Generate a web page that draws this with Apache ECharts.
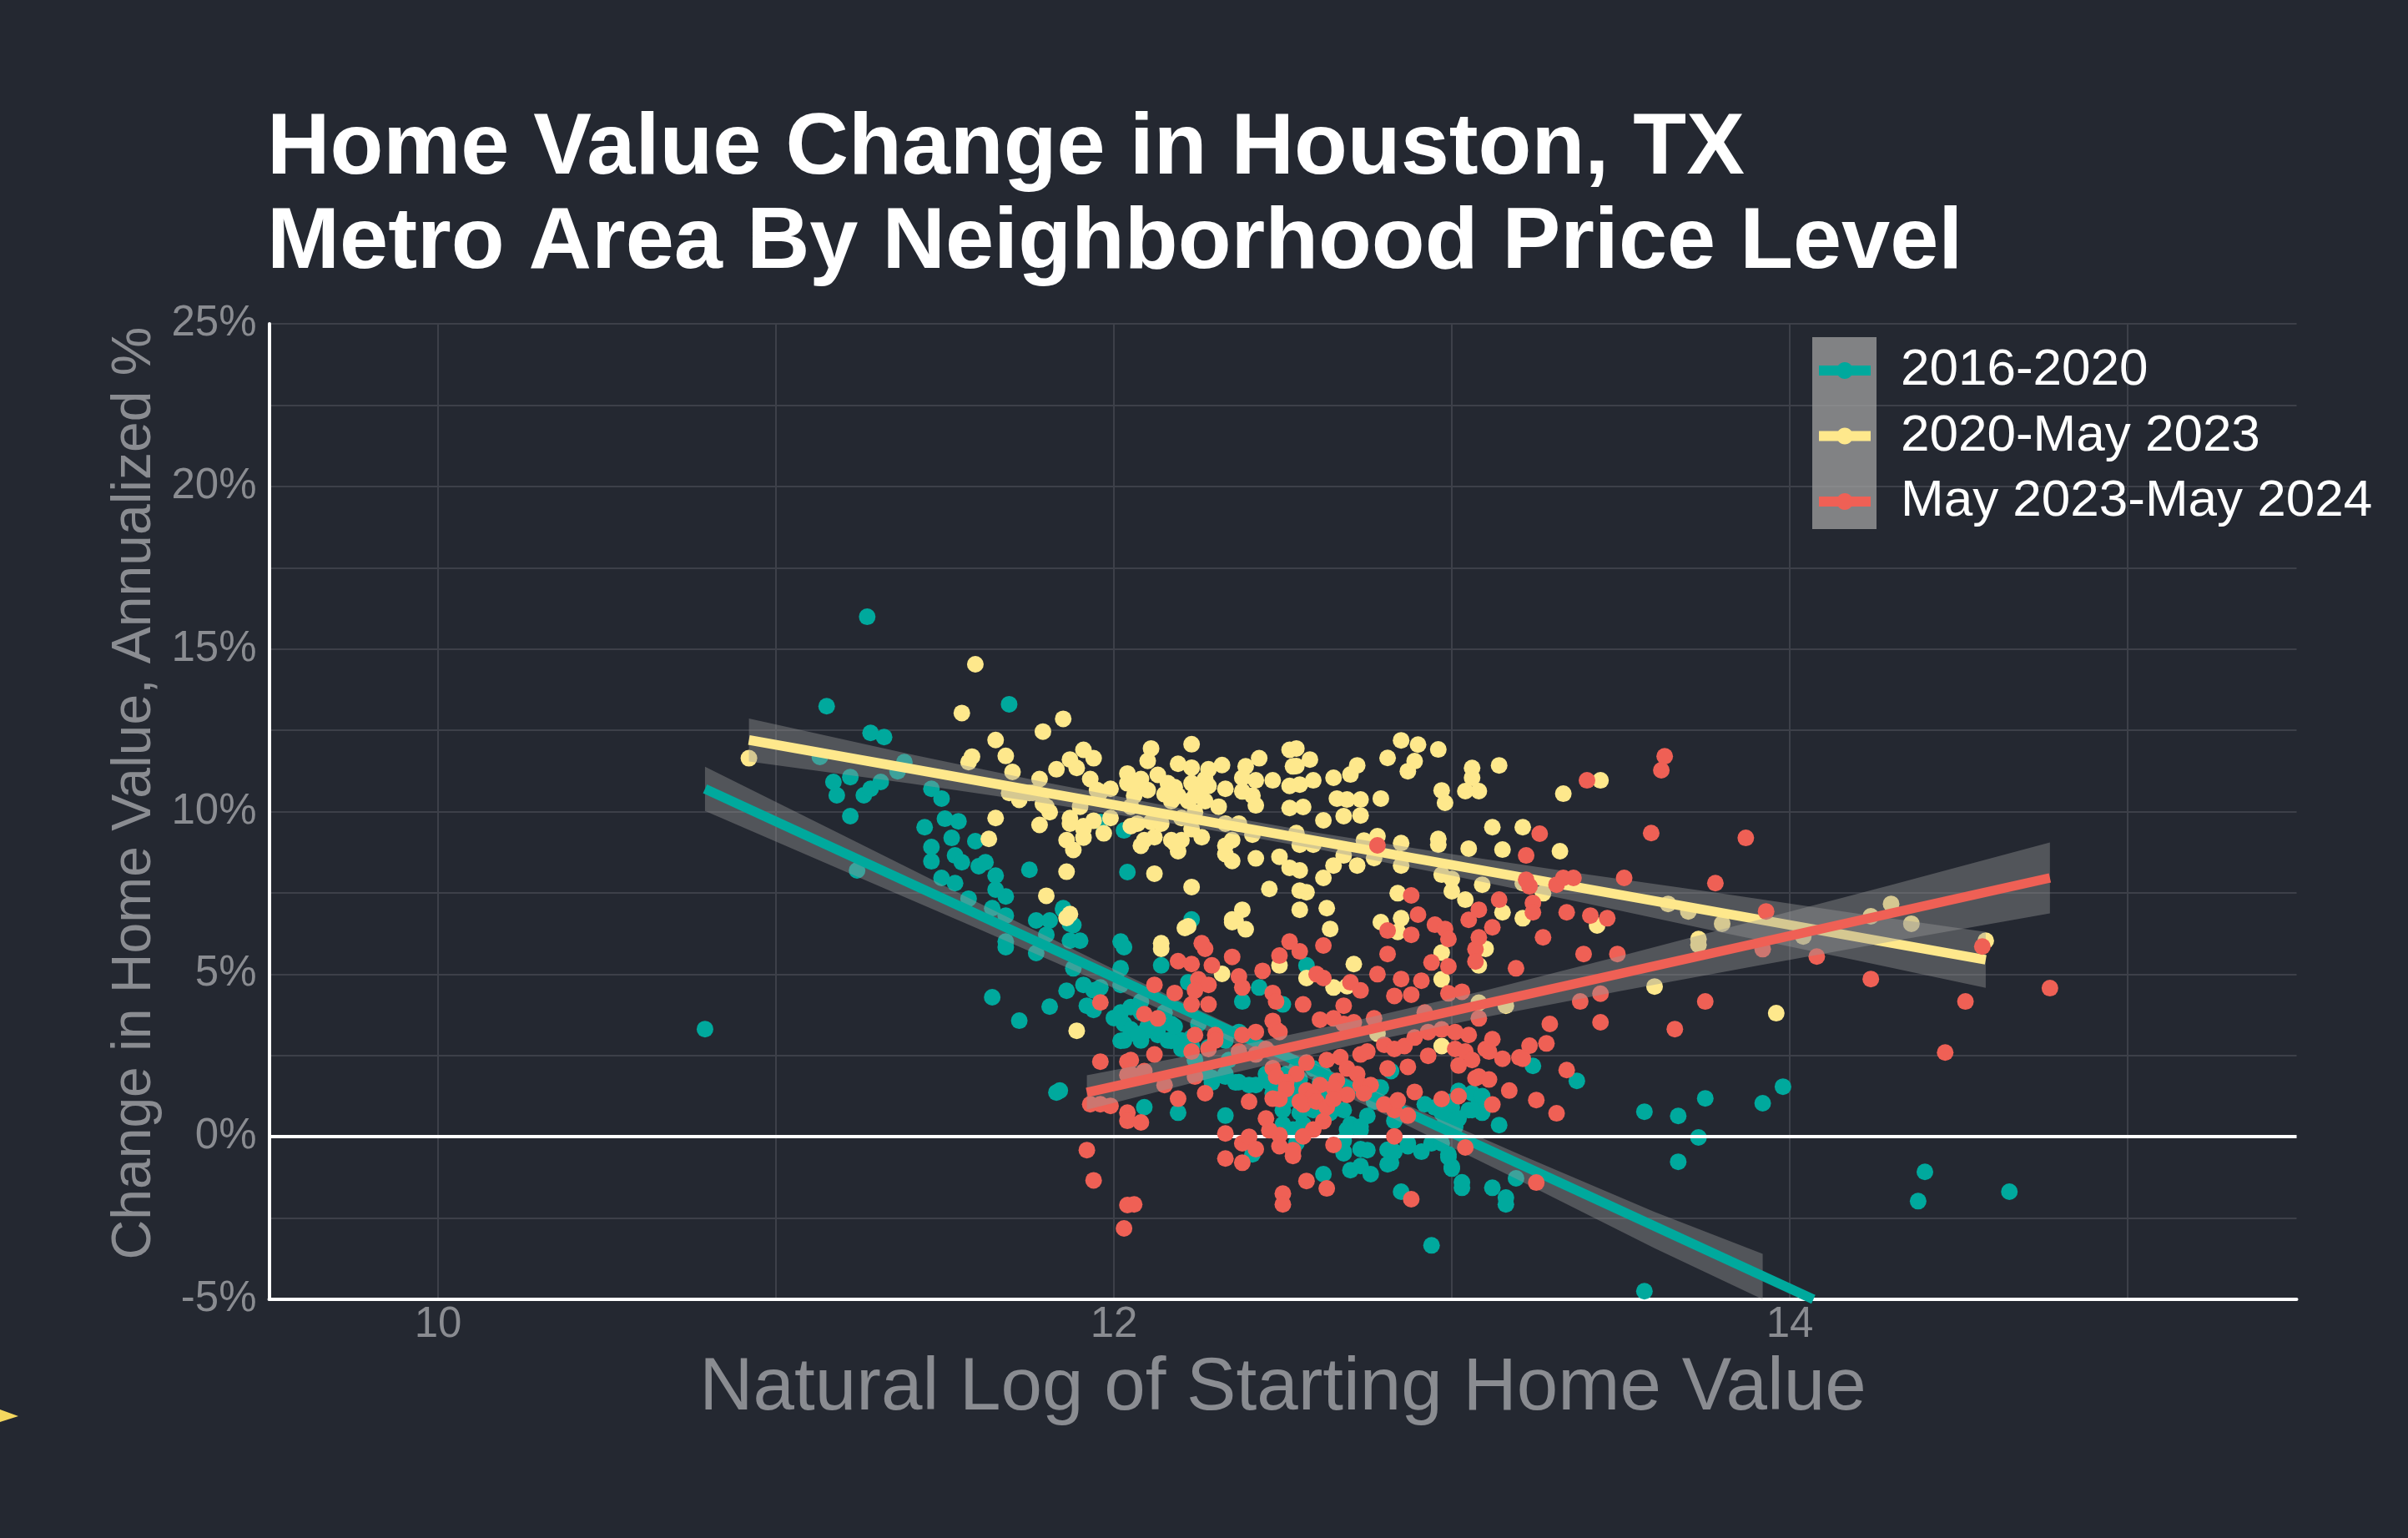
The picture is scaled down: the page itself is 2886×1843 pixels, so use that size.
<!DOCTYPE html>
<html>
<head>
<meta charset="utf-8">
<script src="https://cdn.jsdelivr.net/npm/echarts@6/dist/echarts.min.js"></script>
<style>
html,body{margin:0;padding:0;background:#242831;}
#chart{width:2886px;height:1843px;}
</style>
</head>
<body>
<div id="chart"></div>
<script>
const seriesNames = ['2016-2020', '2020-May 2023', 'May 2023-May 2024'];
const xTickLabels = [10, 12, 14];
const yTickLabels = [-5, 0, 5, 10, 15, 20, 25];

const tealPoints = [
[10.79,3.31],[11.27,15.99],[11.15,13.24],[11.69,13.30],[11.28,12.42],[11.32,12.29],[11.13,11.68],[11.38,11.52],[11.36,11.24],[11.17,10.91],
[11.22,11.06],[11.18,10.50],[11.26,10.50],[11.28,10.70],[11.31,10.91],[11.22,9.86],[11.46,10.70],[11.49,10.40],[11.44,9.52],[11.50,9.78],
[11.54,9.70],[11.52,9.19],[11.46,8.91],[11.46,8.47],[11.53,8.65],[11.55,8.44],[11.59,9.09],[11.60,8.32],[11.62,8.44],[11.49,7.96],
[11.53,7.80],[11.65,8.03],[11.65,7.60],[11.68,7.39],[11.24,8.19],[11.57,7.32],[11.64,7.03],[11.68,6.80],[11.75,8.21],[11.77,6.65],
[11.81,6.65],[11.85,7.03],[11.87,6.55],[12.03,9.42],[12.04,8.14],[11.80,6.21],[11.87,6.03],[11.90,6.03],[11.68,6.00],[12.02,6.00],
[11.64,4.29],[11.72,3.57],[11.81,4.00],[11.83,1.36],[11.68,5.83],[11.77,5.65],[11.88,5.18],[11.86,4.49],[11.91,4.67],[11.94,3.90],
[11.92,4.03],[12.02,4.67],[12.02,3.82],[12.03,3.47],[12.02,2.95],[12.03,5.83],[12.02,5.18],
[11.96,9.68],[11.85,6.98],[12.23,6.68],[11.88,6.51],[12.14,5.27],[11.94,4.50],[11.96,4.59],[12.00,3.65],[12.05,3.99],[12.08,4.16],
[12.05,3.30],[12.09,3.22],[12.13,3.13],[12.16,2.96],[12.03,2.96],[12.08,2.96],[12.20,2.96],[12.23,2.79],[12.17,3.47],[12.25,3.47],
[12.33,2.96],[12.37,3.22],[12.38,4.16],[12.43,4.59],[12.50,4.07],[12.57,5.27],[12.29,1.81],[12.33,1.93],[12.37,1.68],[12.42,1.59],
[12.46,1.68],[12.47,1.34],[12.51,1.25],[12.54,1.59],[12.56,1.17],[12.09,0.91],[12.19,0.74],[12.33,0.65],[12.50,0.82],[12.55,0.74],
[11.84,1.42],[12.22,4.75],
[12.62,-1.15],[12.68,-0.51],[12.70,-1.03],[12.73,-0.90],[12.76,-1.15],[12.75,-0.41],[12.81,-0.85],[12.81,-0.40],[12.85,-1.69],[12.91,-0.46],
[12.87,-0.20],[12.99,-0.54],[13.00,-0.92],[13.03,-1.57],[13.12,-1.57],[13.16,-1.87],[13.16,-2.08],[13.19,-1.28],[12.94,-3.34],[13.24,2.18],
[13.37,1.72],[13.14,0.36],[13.09,0.74],[13.05,0.82],[13.02,1.41],[13.00,0.90],[12.95,0.90],[12.92,1.00],[12.98,0.56],[13.08,1.16],
[12.83,0.49],[12.73,-0.38],[12.70,0.38],[12.73,0.20],[12.68,0.82],[12.63,1.26],[12.59,0.82],[12.52,1.16],[12.48,1.67],[12.50,0.38],
[12.54,-0.20],[12.41,-0.54],[12.40,1.59],[12.36,1.67],[12.33,1.85],[12.29,1.67],[12.27,1.98],[12.24,2.36],[12.20,2.70],[12.17,2.95],
[12.13,3.31],[12.10,3.39],[12.07,3.13],[12.08,3.82],[12.15,3.82],[12.18,3.39],[12.23,3.05],[12.28,2.75],[12.34,2.36],[12.45,1.93],
[12.55,1.77],[12.61,1.67],[12.78,1.51],[12.75,0.64],[12.62,1.93],[12.59,2.10],[13.01,0.31],[12.94,-0.20],
[12.82,2.02],[12.51,1.93],[12.54,2.10],[12.53,1.34],[12.50,1.08],[12.56,0.39],[12.53,0.22],[12.64,0.74],[12.73,0.31],[12.69,0.22],
[12.68,-0.12],[12.79,1.51],[12.77,1.08],[12.97,0.74],[13.00,1.08],[13.06,1.34],[13.09,1.25],[13.06,0.82],[13.02,0.56],[12.97,-0.20],
[12.99,-0.63],[13.00,-0.98],[12.83,-0.46],[12.87,-0.29],[12.68,-0.46],[12.82,-0.80],[13.03,-1.40],
[13.57,0.77],[13.67,0.64],[13.75,1.18],[13.92,1.03],[13.98,1.54],[13.73,-0.02],[13.67,-0.77],[14.40,-1.08],[14.38,-1.98],[14.65,-1.69],
[13.57,-4.75]
];

const yellowPoints = [
[10.92,11.64],[11.59,14.53],[11.55,13.03],[11.85,12.85],[11.79,12.46],[11.65,12.20],[11.58,11.69],[11.57,11.52],[11.68,11.71],[11.70,11.22],
[11.78,11.00],[11.83,11.30],[11.87,11.60],[11.91,11.90],[11.94,11.64],[11.89,11.34],[11.93,11.00],[11.99,10.70],[12.04,11.17],[12.04,10.87],
[11.72,10.36],[11.69,10.57],[11.75,10.57],[11.79,10.23],[11.81,9.98],[11.78,9.59],[11.87,9.80],[11.87,9.63],[11.91,9.55],[11.94,9.72],
[11.90,10.15],[11.97,9.33],[11.99,9.80],[11.91,9.20],[11.86,9.12],[11.88,8.82],[11.65,9.80],[11.63,9.16],[11.86,8.15],[11.80,7.41],
[11.87,6.85],[11.96,10.60],[12.05,10.15],[12.05,9.55],[11.95,10.66],[11.76,10.58],[11.80,10.15],[11.91,9.46],
[12.11,11.94],[12.10,11.56],[12.13,11.13],[12.08,11.00],[12.16,10.87],[12.07,10.75],[12.10,10.66],[12.15,10.53],[12.23,12.07],[12.19,11.47],
[12.23,11.35],[12.28,11.30],[12.32,11.43],[12.23,10.87],[12.28,10.79],[12.22,10.32],[12.27,10.32],[12.31,10.15],[12.39,11.39],[12.43,11.64],
[12.38,11.04],[12.42,10.96],[12.47,10.96],[12.52,11.90],[12.53,11.39],[12.52,10.79],[12.52,10.11],[12.33,10.70],[12.38,10.62],[12.42,10.19],
[12.07,9.63],[12.11,9.68],[12.14,9.63],[12.09,9.12],[12.12,9.21],[12.17,9.12],[12.20,9.12],[12.19,8.78],[12.23,9.46],[12.26,9.21],
[12.35,9.12],[12.33,8.69],[12.35,8.48],[12.41,9.29],[12.42,8.56],[12.49,8.61],[12.52,8.27],[12.12,8.09],[12.23,7.68],[12.46,7.62],
[12.38,6.98],[12.35,6.68],
[12.18,9.03],[12.08,8.95],[12.24,9.98],[12.20,9.80],[12.37,9.63],[12.33,9.63],[12.33,8.95],[12.41,10.49],[12.24,10.49],[12.19,10.49],
[12.17,10.32],[12.06,10.49],[12.18,10.75],[12.27,11.00],[12.26,10.75],
[12.54,11.94],[12.58,11.60],[12.54,11.40],[12.59,10.96],[12.55,10.83],[12.65,11.04],[12.70,11.14],[12.72,11.42],[12.85,12.19],[12.90,12.06],
[12.96,11.91],[12.81,11.65],[12.89,11.55],[12.87,11.24],[13.06,11.34],[13.06,11.04],[13.08,10.63],[13.04,10.63],[13.14,11.42],[12.97,10.65],
[12.98,10.27],[13.33,10.55],[13.12,9.52],[13.21,9.52],[13.05,8.86],[13.15,8.83],[13.32,8.78],[12.96,9.16],[12.96,8.98],[12.85,9.03],
[12.85,8.34],[12.78,9.24],[12.74,9.11],[12.77,8.57],[12.72,8.34],[12.68,8.65],[12.65,8.34],[12.62,7.96],[12.97,8.06],[13.00,7.93],
[13.00,7.55],[13.04,7.29],[13.09,7.75],[13.15,6.90],[13.21,6.72],[13.21,7.80],[13.27,7.49],[12.84,7.49],[12.85,6.72],[12.79,6.60],
[12.84,6.30],[13.43,6.50],[12.62,9.73],[12.68,9.86],[12.73,9.88],[12.69,10.37],[12.73,10.37],[12.79,10.40],[12.66,10.40],[12.56,10.14],
[12.54,9.34],[12.55,8.98],[12.59,8.98],[12.55,8.19],[12.55,7.57],[12.57,7.52],[12.55,6.98],[12.63,7.03],[12.64,6.39],[12.36,6.65],
[12.21,6.42],[12.14,5.95],
[12.14,5.78],[12.32,5.01],[12.49,5.27],[12.57,4.88],[12.65,4.59],[12.69,4.63],[12.71,5.31],[12.97,5.66],[12.97,4.84],[13.10,5.78],
[13.08,5.27],[12.78,3.17],[12.97,2.79],[13.16,4.03],[13.08,4.12],[12.22,6.47],[12.35,6.60],[12.39,6.38],[11.89,3.26],[11.86,6.73],
[13.44,10.96],[13.64,7.16],[13.70,6.93],[13.80,6.55],[13.73,6.08],[14.24,6.78],[14.30,7.16],[14.36,6.55],[14.58,6.03],[14.04,6.16],
[13.60,4.62],[13.96,3.80],[13.73,5.90]
];

const redPoints = [
[11.96,4.13],[11.96,2.31],[11.93,1.00],[11.96,1.00],[11.99,0.95],[12.04,0.74],[12.04,0.49],[12.04,2.31],[12.04,1.90],[11.92,-0.41],
[11.94,-1.34],[12.04,-2.10],[12.03,-2.82],
[12.27,5.78],[12.35,5.53],[12.52,6.00],[12.55,5.70],[12.49,5.57],[12.19,5.40],[12.23,5.31],[12.29,5.27],[12.44,5.10],[12.37,4.93],
[12.25,4.84],[12.28,4.67],[12.24,4.50],[12.12,4.67],[12.18,4.42],[12.23,4.07],[12.28,4.07],[12.38,4.59],[12.47,4.42],[12.48,4.16],
[12.56,4.07],[12.09,3.77],[12.13,3.64],[12.47,3.56],[12.48,3.30],[12.24,3.13],[12.30,3.13],[12.38,3.13],[12.42,3.22],[12.05,2.36],
[12.12,2.53],[12.23,2.62],[12.28,2.70],[12.30,2.96],[12.37,2.62],[12.42,2.53],[12.45,2.70],[12.47,2.11],[12.48,1.85],[12.05,1.93],
[12.09,2.02],[12.15,1.59],[12.19,1.17],[12.27,1.34],[12.40,1.08],[12.47,1.17],[12.51,1.51],[12.54,1.93],[12.56,0.99],[12.57,1.42],
[12.62,5.88],[12.60,5.00],[12.62,4.88],[12.70,4.75],[12.78,5.00],[12.81,5.62],[12.85,4.85],[12.91,4.80],[12.94,5.36],[12.99,5.24],
[13.07,5.77],[13.07,5.39],[13.19,5.18],[13.39,5.62],[13.29,3.47],[13.38,4.16],[13.28,2.87],[13.23,2.80],[13.20,2.44],[13.10,2.70],
[13.08,1.85],[13.25,1.13],[13.31,0.72],[13.34,2.05],[13.25,-1.41],[12.83,0.82],[12.63,-1.59],[12.50,-1.75],[12.50,-2.08],[12.06,-2.08],
[12.38,-0.80],[12.33,-0.67],[12.33,0.10],[12.38,-0.20],[12.40,0.00],[12.42,-0.38],[12.53,-0.41],[12.49,0.05],[12.45,0.56],[12.46,0.20],
[12.08,0.44],[12.24,1.85],[12.88,-1.92],
[12.68,4.03],[12.61,3.60],[12.65,3.64],[12.68,3.47],[12.71,3.52],[12.77,3.64],[12.49,3.22],[12.83,4.33],[12.88,4.37],[12.73,4.50],
[12.99,4.41],[13.03,4.46],[12.92,3.82],[13.08,3.64],[12.63,2.36],[12.67,2.45],[12.57,2.28],[12.51,1.68],[12.73,2.53],[12.75,2.62],
[12.80,2.83],[12.83,2.70],[12.86,2.79],[12.89,3.05],[12.93,3.22],[12.97,3.30],[13.01,3.22],[13.05,3.13],[12.93,2.49],[13.01,2.70],
[13.04,2.62],[13.06,2.36],[13.02,2.19],[13.12,3.00],[13.11,2.62],[13.15,2.40],[13.21,2.40],[12.87,2.15],[12.81,2.10],[12.69,2.10],
[12.72,1.93],[12.73,1.59],[12.66,1.72],[12.65,1.51],[12.61,1.59],[12.59,1.25],[12.76,1.59],[12.74,1.34],[12.69,1.29],[13.07,1.80],
[13.11,1.76],[13.17,1.42],[12.89,1.38],[12.80,0.99],[12.84,1.12],[12.87,0.65],[12.55,1.08],[12.60,1.08],[12.63,0.91],[12.62,0.48],
[12.59,0.22],[12.56,0.01],[12.51,1.46],[12.49,1.16],[12.97,1.16],[13.02,1.25],[13.12,0.99],[12.83,0.01],[12.65,-0.25],[12.53,-0.59],
[12.49,-0.29],[13.04,-0.33],[12.57,-1.36],[12.65,1.16],
[12.78,8.96],[13.26,9.32],[13.22,8.65],[13.40,10.96],[12.88,7.42],[12.90,6.83],[12.81,6.34],[12.88,6.21],[12.95,6.52],[12.98,6.39],
[12.99,6.08],[13.05,6.67],[13.08,6.98],[13.08,6.13],[13.12,6.44],[13.14,7.29],[13.23,7.70],[13.24,7.19],[13.24,6.90],[13.31,7.75],
[13.33,7.96],[13.36,7.96],[13.34,6.90],[13.41,6.80],[13.27,6.13],[13.22,7.90],[12.26,5.95],
[13.49,5.62],[14.24,4.85],[14.52,4.16],[14.77,4.57],[14.46,2.59],[13.75,4.16],[13.66,3.31],[13.44,3.52],[14.08,5.54],[13.92,5.77],
[14.57,5.85],[13.44,4.40],
[13.63,11.70],[13.62,11.27],[13.59,9.34],[13.87,9.19],[13.51,7.96],[13.78,7.80],[13.93,6.93],[13.46,6.72]
];

// fitted lines (read endpoints)
const tealFit = [[10.79, 10.70], [14.07, -5.00]];
const yellowFit = [[10.92, 12.20], [14.58, 5.44]];
const redFit = [[11.92, 1.36], [14.77, 7.96]];

// confidence bands: [x, lower, upper]
const tealBand = [
[10.79,10.02,11.38],[11.20,8.18,9.26],[11.60,6.39,7.19],[12.00,4.57,5.15],[12.40,2.67,3.17],
[12.80,0.70,1.28],[13.20,-1.34,-0.54],[13.60,-3.43,-2.31],[13.92,-5.00,-3.60]
];
const yellowBand = [
[10.92,11.54,12.86],[11.40,10.86,11.76],[11.80,10.25,10.89],[12.20,9.59,10.09],[12.60,8.85,9.35],
[13.00,8.03,8.69],[13.40,7.17,8.07],[13.80,6.28,7.48],[14.20,5.42,6.86],[14.58,4.58,6.30]
];
const redBand = [
[11.92,0.83,1.89],[12.30,1.83,2.65],[12.70,2.81,3.53],[13.10,3.68,4.50],[13.50,4.48,5.56],
[13.90,5.25,6.65],[14.30,6.00,7.74],[14.77,6.87,9.05]
];

const colors = ['#00a99d', '#fee88c', '#ef6055'];
const FONT = "'Liberation Sans', Arial, Helvetica, sans-serif";
const GRID = '#3d4049';
const GRAY_TXT = '#8a8c91';

function scatterSeries(idx, pts, z) {
  return {
    name: seriesNames[idx], type: 'scatter', data: pts, z: z,
    symbol: 'circle', symbolSize: 20, silent: true,
    itemStyle: { color: colors[idx], opacity: 1 }
  };
}
function bandSeries(idx, band, z) {
  return {
    name: seriesNames[idx], type: 'custom', data: band, z: z, silent: true,
    encode: { x: 0, y: [1, 2] },
    renderItem: function (params, api) {
      if (params.dataIndex !== 0) return null;
      const upper = band.map(d => api.coord([d[0], d[2]]));
      const lower = band.slice().reverse().map(d => api.coord([d[0], d[1]]));
      return { type: 'polygon', shape: { points: upper.concat(lower) },
               style: { fill: 'rgba(153,153,153,0.4)' } };
    }
  };
}
function fitSeries(idx, fit, z) {
  return {
    name: seriesNames[idx], type: 'line', data: fit, z: z, silent: true,
    symbol: 'none', lineStyle: { color: colors[idx], width: 11.5, cap: 'butt' },
    itemStyle: { color: colors[idx] }
  };
}

const legendIcon = 'path://M0,4L62,4L62,16L0,16Z M41,10C41,15.52 36.52,20 31,20C25.48,20 21,15.52 21,10C21,4.48 25.48,0 31,0C36.52,0 41,4.48 41,10Z';

const chart = echarts.init(document.getElementById('chart'), null, { renderer: 'canvas', width: 2886, height: 1843 });

const option = {
  backgroundColor: '#242831',
  animation: false,
  textStyle: { fontFamily: FONT },
  title: {
    text: 'Home Value Change in Houston, TX\nMetro Area By Neighborhood Price Level',
    left: 320, top: 123, padding: 0,
    textStyle: { color: '#ffffff', fontSize: 104.5, fontWeight: 'bold', fontFamily: FONT, lineHeight: 113 }
  },
  legend: {
    orient: 'vertical', left: 2180, top: 413, padding: 0,
    itemWidth: 62, itemHeight: 20, itemGap: 16.5, selectedMode: false,
    textStyle: { color: '#ffffff', fontSize: 62, fontFamily: FONT, lineHeight: 60, padding: [0, 0, 0, 31] },
    data: seriesNames.map(n => ({ name: n, icon: legendIcon }))
  },
  graphic: [
    { type: 'rect', z: 1, silent: true, shape: { x: 2172, y: 404, width: 77, height: 230 },
      style: { fill: 'rgba(160,160,160,0.75)' } },
    { type: 'polygon', silent: true, shape: { points: [[0, 1689], [22, 1697], [0, 1704]] },
      style: { fill: '#f5d85f' } }
  ],
  grid: { left: 322.5, right: 133.5, top: 388, bottom: 286, containLabel: false, outerBoundsMode: 'none' },
  xAxis: {
    type: 'value', min: 9.5, max: 15.5, interval: 0.5,
    name: 'Natural Log of Starting Home Value', nameLocation: 'middle', nameGap: 63,
    nameTextStyle: { color: GRAY_TXT, fontSize: 89, fontFamily: FONT },
    axisLine: { show: true, onZero: false, lineStyle: { color: '#ffffff', width: 4 } },
    axisTick: { show: false },
    axisLabel: { color: GRAY_TXT, fontSize: 51, fontFamily: FONT, margin: 5,
      formatter: v => (xTickLabels.indexOf(Math.round(v * 100) / 100) >= 0 ? String(v) : '') },
    splitLine: { show: true, lineStyle: { color: ['rgba(0,0,0,0)', GRID], width: 2 } }
  },
  yAxis: {
    type: 'value', min: -5, max: 25, interval: 2.5,
    name: 'Change in Home Value, Annualized %', nameLocation: 'middle', nameGap: 118, nameRotate: 90,
    nameTextStyle: { color: GRAY_TXT, fontSize: 66, fontFamily: FONT, padding: [0, 0, 0, 44] },
    axisLine: { show: true, lineStyle: { color: '#ffffff', width: 4 } },
    axisTick: { show: false },
    axisLabel: { color: GRAY_TXT, fontSize: 51, fontFamily: FONT, margin: 15,
      formatter: v => (yTickLabels.indexOf(v) >= 0 ? v + '%' : '') },
    splitLine: { show: true, lineStyle: { color: GRID, width: 2 } }
  },
  series: [
    { type: 'line', data: [], z: 1, silent: true,
      markLine: { silent: true, symbol: 'none', label: { show: false },
        lineStyle: { color: '#ffffff', width: 4, type: 'solid' }, data: [{ yAxis: 0 }] } },
    scatterSeries(0, tealPoints, 2),
    bandSeries(0, tealBand, 3),
    fitSeries(0, tealFit, 4),
    scatterSeries(1, yellowPoints, 5),
    bandSeries(1, yellowBand, 6),
    fitSeries(1, yellowFit, 7),
    scatterSeries(2, redPoints, 8),
    bandSeries(2, redBand, 9),
    fitSeries(2, redFit, 10)
  ]
};
chart.setOption(option);
</script>
</body>
</html>
